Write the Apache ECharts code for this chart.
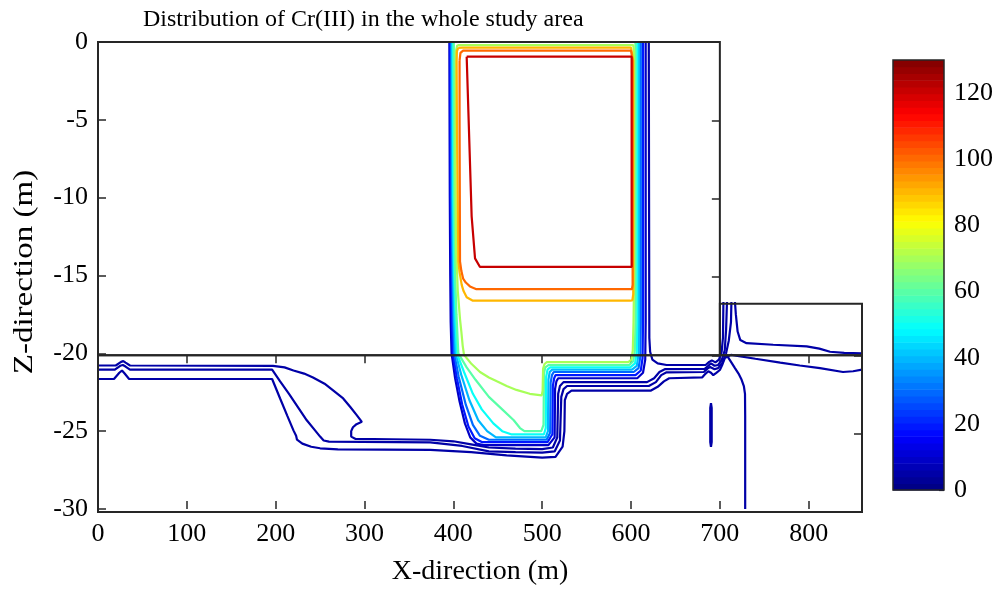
<!DOCTYPE html>
<html><head><meta charset="utf-8">
<script src="https://cdn.jsdelivr.net/npm/echarts@6/dist/echarts.min.js"></script>
<style>html,body{margin:0;padding:0;background:#fff}#c{width:1002px;height:591px}</style>
</head><body><div id="c"></div>
<script>
// ---------- data ----------
var titleText = 'Distribution of Cr(III) in the whole study area';
var xName = 'X-direction (m)', zName = 'Z-direction (m)';
var xTicks = [0,100,200,300,400,500,600,700,800];
var zTicks = [0,-5,-10,-15,-20,-25,-30];
var cbarTicks = [0,20,40,60,80,100,120];
var cbarMin = 0, cbarMax = 130, cbarSteps = 64;
var xMin = 0, xMax = 860, zMin = -30, zMax = 0;
var upperBoxX = 700, upperBoxZ = -20, rightBoxTop = -16.7;

// contour lines: [x, z]
var c10 = [[395.5,0],[396,-10],[396.5,-15],[397,-18],[398,-20],[402,-21.6],[407,-23.1],[413,-24.5],[419,-25.4],[426,-25.8],[434,-25.9],[507,-25.9],[514,-25.4],[514.5,-22.3],[516,-21.8],[518,-21.6],[607,-21.6],[613.5,-21.25],[616,-20.4],[616.5,-18],[616.5,0]];
var c20 = [[396.5,0],[397,-10],[398,-15],[398.5,-18],[399.5,-20],[404,-21.6],[410,-23.3],[417,-24.7],[424,-25.45],[432,-25.7],[506,-25.7],[511.5,-25.2],[512,-22.1],[513.5,-21.6],[515,-21.4],[605,-21.4],[611,-21.1],[613,-20.3],[613.5,-18],[613.5,0]];
var c30 = [[397.5,0],[398,-10],[399,-15],[400,-18],[401,-20],[406,-21.5],[414,-23.3],[422,-24.6],[430,-25.3],[440,-25.55],[505,-25.55],[509,-25.1],[509.5,-21.9],[511,-21.4],[513,-21.2],[603,-21.2],[608.5,-20.95],[610.5,-20.2],[611,-18],[611,0]];
var c40 = [[398.5,0],[399,-10],[400,-15],[401,-18],[402.5,-20],[409,-21.4],[418,-23.0],[428,-24.3],[438,-25.0],[448,-25.4],[504,-25.4],[506.5,-25.0],[507,-21.7],[508.5,-21.2],[511,-21.05],[601,-21.05],[606.5,-20.8],[608.5,-20.0],[609,-18],[609,0]];
var c50 = [[399.5,0],[400,-10],[401,-15],[402.5,-18],[404,-20],[412,-21.2],[422,-22.6],[432,-23.6],[445,-24.5],[455,-25.0],[465,-25.2],[502,-25.2],[504,-24.8],[504.5,-21.5],[506,-21.05],[509,-20.9],[599,-20.9],[604.5,-20.65],[606.5,-19.9],[607,-18],[607,0]];
var c60 = [[400.5,0],[401,-10],[402,-15],[403.5,-17.5],[405.6,-20],[415,-20.9],[425,-21.7],[440,-22.8],[455,-23.6],[468,-24.3],[475,-24.8],[480,-25.0],[499,-25.0],[501.5,-24.6],[502,-21.3],[503.5,-20.9],[507,-20.75],[598,-20.75],[602.5,-20.5],[604.3,-19.8],[605,-18],[605,0]];
var c70 = [[404.5,-0.2],[402.8,-0.6],[402.3,-8],[403,-13],[405,-16],[407.5,-17.8],[409,-18.6],[410.5,-19.5],[412,-20.1],[420,-20.65],[430,-21.2],[440,-21.55],[449,-21.8],[460,-22.1],[471,-22.35],[486,-22.6],[499.5,-22.7],[500.5,-22.4],[501,-21.0],[502.5,-20.7],[505,-20.57],[597,-20.57],[600.5,-20.4],[602,-19.8],[602.8,-18],[603.5,-15],[603.5,-0.6],[602.5,-0.2],[404.5,-0.2]];
var c90 = [[405.5,-0.38],[410,-0.36],[600,-0.36],[602,-0.45],[602.5,-1.2],[602.5,-16.2],[601.5,-16.6],[599,-16.62],[422,-16.62],[415,-16.4],[411.5,-16.0],[409.4,-15.6],[407,-14.8],[405.6,-14.1],[404,-5],[403.7,-1.2],[404,-0.6],[405.5,-0.38]];
var c100 = [[407,-1.2],[408,-0.7],[411,-0.55],[600,-0.55],[601.5,-0.65],[601.8,-1.2],[601.8,-15.6],[601,-15.88],[426,-15.88],[418.7,-15.7],[414,-15.45],[411,-15.2],[409,-14.7],[407.5,-14.1],[407,-5],[407,-1.2]];
var c120 = [[415,-0.94],[600.7,-0.94],[600.7,-14.45],[430,-14.45],[424.4,-13.9],[420.6,-11.2],[415,-0.94]];
var lineA = [[0,-20.78],[20,-20.78],[26,-20.55],[28.5,-20.5],[31,-20.6],[36,-20.78],[197,-20.8],[210,-20.9],[220,-21.1],[232,-21.3],[242,-21.55],[255,-21.95],[265,-22.4],[276,-22.9],[284,-23.45],[291,-23.95],[297,-24.4],[291,-24.55],[287,-24.75],[285,-25.0],[285,-25.35],[290,-25.5],[330,-25.52],[374,-25.55],[400,-25.65],[420,-25.85],[440,-26.05],[470,-26.12],[500,-26.15],[512,-26.05],[517,-25.4],[518,-22.6],[520,-22.1],[524,-21.85],[618,-21.85],[626,-21.6],[632,-21.2],[638,-21.02],[683,-21.0],[687,-20.8],[690,-20.65],[694,-20.8],[698,-20.75],[702,-20.45],[705.5,-19.8],[707,-18.5],[708,-16.7]];
var lineB = [[0,-21.05],[19,-21.05],[25,-20.8],[28,-20.75],[31,-20.85],[36,-21.05],[196,-21.05],[205,-21.8],[215,-22.6],[225,-23.45],[235,-24.3],[245,-25.0],[250,-25.35],[254,-25.6],[260,-25.67],[374,-25.72],[410,-25.95],[440,-26.3],[470,-26.35],[500,-26.38],[514,-26.3],[520,-25.6],[521.5,-22.8],[524,-22.3],[528,-22.1],[620,-22.1],[628,-21.85],[634,-21.4],[640,-21.22],[682,-21.2],[686,-20.98],[689,-20.88],[694,-21.02],[698,-20.95],[703,-20.6],[707,-20.0],[710,-19.2],[712.5,-18],[713,-16.7]];
var lineC = [[0,-21.65],[18,-21.65],[24,-21.25],[27,-21.1],[30,-21.3],[35,-21.65],[196,-21.65],[205,-22.9],[213,-24.0],[220,-24.95],[223,-25.3],[224,-25.55],[230,-25.8],[240,-26.0],[250,-26.1],[270,-26.17],[374,-26.2],[420,-26.35],[460,-26.55],[500,-26.7],[515,-26.65],[523,-26.0],[525,-25],[525.5,-23.0],[528,-22.6],[533,-22.4],[622,-22.4],[630,-22.15],[637,-21.8],[643,-21.6],[680,-21.55],[684,-21.3],[687,-21.15],[690,-21.25],[692.6,-21.4],[696,-21.25],[700,-21.07],[703,-20.7],[705.6,-20.3],[712.5,-20.1],[740,-20.35],[768,-20.6],[790,-20.78],[812.7,-20.95],[838.6,-21.2],[850,-21.15],[860,-21.05]];
var lineR = [[620,0],[620.3,-10],[620.6,-19],[621.5,-19.9],[624,-20.4],[630,-20.65],[640,-20.75],[684,-20.75],[688,-20.55],[691,-20.45],[695,-20.58],[699,-20.4],[702,-19.9],[703.5,-19],[704,-16.7]];
var lineE = [[717,-16.7],[718,-17.5],[720,-18.6],[723,-19.15],[730,-19.35],[760,-19.45],[797.7,-19.55],[812,-19.7],[824,-19.9],[840,-19.97],[860,-20.0]];
var lineF = [[707.5,-20.1],[712,-20.5],[717,-20.95],[721,-21.3],[724.5,-21.7],[727,-22.1],[728.3,-22.6],[728.5,-24],[728.5,-30]];
var dash = [[690,-23.2],[690.8,-23.5],[690.8,-25.7],[690,-26.0],[689.2,-25.7],[689.2,-23.5],[690,-23.2]];

var contours = [
  {level: 5, pts: lineA}, {level: 5, pts: lineB}, {level: 5, pts: lineC},
  {level: 5, pts: lineR}, {level: 5, pts: lineE}, {level: 5, pts: lineF}, {level: 5, pts: dash},
  {level: 10, pts: c10}, {level: 20, pts: c20}, {level: 30, pts: c30}, {level: 40, pts: c40},
  {level: 50, pts: c50}, {level: 60, pts: c60}, {level: 70, pts: c70},
  {level: 90, pts: c90}, {level: 100, pts: c100}, {level: 120, pts: c120}
];

// ---------- helpers ----------
function jet(t){
  function c(v){return Math.max(0, Math.min(1, v));}
  var r = c(1.5 - Math.abs(4*t - 3)), g = c(1.5 - Math.abs(4*t - 2)), b = c(1.5 - Math.abs(4*t - 1));
  return 'rgb(' + Math.round(r*255) + ',' + Math.round(g*255) + ',' + Math.round(b*255) + ')';
}
function cellColor(i){ return jet((i + 0.5) / cbarSteps); }
function levelColor(L){
  var i = Math.floor((L - cbarMin) / (cbarMax - cbarMin) * cbarSteps);
  i = Math.max(0, Math.min(cbarSteps - 1, i));
  return cellColor(i);
}

var PL = 98, PT = 42, PW = 764, PH = 470;
function gx(v){ return PL + (v - xMin) / (xMax - xMin) * PW; }
function gz(v){ return PT + (zMax - v) / (zMax - zMin) * PH; }

var FONT = 'Liberation Serif';
var AX = '#262626';
var tickStyle = {color: AX, width: 1.5};

var cbCells = [];
for (var i = 0; i < cbarSteps; i++) cbCells.push([i]);

var series = contours.map(function(c){
  return {type: 'line', xAxisIndex: 0, yAxisIndex: 0, data: c.pts, showSymbol: false, symbol: 'none',
    lineStyle: {color: levelColor(c.level), width: 2.2}, z: 3, animation: false, silent: true};
});
series.push({
  type: 'custom', xAxisIndex: 4, yAxisIndex: 4, data: cbCells, animation: false, silent: true,
  renderItem: function(params, api){
    var i = api.value(0);
    var lo = cbarMin + i * (cbarMax - cbarMin) / cbarSteps;
    var hi = cbarMin + (i + 1) * (cbarMax - cbarMin) / cbarSteps;
    var p1 = api.coord([0, lo]), p2 = api.coord([1, hi]);
    return {type: 'rect', shape: {x: p1[0], y: p2[1], width: p2[0] - p1[0], height: p1[1] - p2[1] + 0.6},
      style: {fill: cellColor(i)}};
  }
});

var frame = {show: true, borderColor: AX, borderWidth: 2, backgroundColor: 'transparent', z: 10};

var option = {
  animation: false,
  backgroundColor: '#fff',
  title: {text: titleText, left: 138, top: 3,
    textStyle: {fontFamily: FONT, fontSize: 24, fontWeight: 'normal', color: '#000'}},
  graphic: [{
    type: 'text', x: 25, y: 272, rotation: Math.PI / 2, scaleX: 1.18, silent: true,
    style: {text: zName, fontFamily: FONT, fontSize: 28, fill: '#000', align: 'center', verticalAlign: 'middle'}
  }],
  grid: [
    {left: PL, top: PT, width: PW, height: PH, show: false},
    Object.assign({left: gx(0), top: gz(0), width: gx(upperBoxX) - gx(0), height: gz(upperBoxZ) - gz(0)}, frame),
    Object.assign({left: gx(0), top: gz(upperBoxZ), width: gx(xMax) - gx(0), height: gz(zMin) - gz(upperBoxZ)}, frame),
    Object.assign({left: gx(upperBoxX), top: gz(rightBoxTop), width: gx(xMax) - gx(upperBoxX), height: gz(upperBoxZ) - gz(rightBoxTop)}, frame),
    {left: 893, top: 60, width: 51, height: 430, show: true, borderColor: AX, borderWidth: 1.5, backgroundColor: 'transparent', z: 10}
  ],
  xAxis: [
    {gridIndex: 0, type: 'value', min: xMin, max: xMax, position: 'bottom',
      axisLine: {show: false, onZero: false}, splitLine: {show: false},
      axisTick: {show: true, inside: true, length: 8, customValues: xTicks, lineStyle: tickStyle},
      axisLabel: {show: true, customValues: xTicks, fontFamily: FONT, fontSize: 26, color: '#000', margin: 12},
      name: xName, nameLocation: 'middle', nameGap: 49,
      nameTextStyle: {fontFamily: FONT, fontSize: 28, color: '#000'}},
    {gridIndex: 1, type: 'value', min: xMin, max: upperBoxX, show: false, axisLine: {onZero: false}},
    {gridIndex: 2, type: 'value', min: xMin, max: xMax, position: 'top',
      axisLine: {show: false, onZero: false}, splitLine: {show: false}, axisLabel: {show: false},
      axisTick: {show: true, inside: true, length: 8, customValues: xTicks, lineStyle: tickStyle}},
    {gridIndex: 3, type: 'value', min: upperBoxX, max: xMax, show: false, axisLine: {onZero: false}},
    {gridIndex: 4, type: 'value', min: 0, max: 1, show: false, axisLine: {onZero: false}}
  ],
  yAxis: [
    {gridIndex: 0, type: 'value', min: zMin, max: zMax, interval: 5, position: 'left',
      axisLine: {show: false, onZero: false}, splitLine: {show: false},
      axisTick: {show: true, inside: true, length: 8, lineStyle: tickStyle},
      axisLabel: {show: true, fontFamily: FONT, fontSize: 26, color: '#000', margin: 10}},
    {gridIndex: 1, type: 'value', min: upperBoxZ, max: zMax, interval: 5, position: 'right',
      axisLine: {show: false, onZero: false}, splitLine: {show: false}, axisLabel: {show: false},
      axisTick: {show: true, inside: true, length: 8, lineStyle: tickStyle}},
    {gridIndex: 2, type: 'value', min: zMin, max: upperBoxZ, interval: 5, position: 'right',
      axisLine: {show: false, onZero: false}, splitLine: {show: false}, axisLabel: {show: false},
      axisTick: {show: true, inside: true, length: 8, lineStyle: tickStyle}},
    {gridIndex: 3, type: 'value', min: upperBoxZ, max: rightBoxTop, show: false, axisLine: {onZero: false}},
    {gridIndex: 4, type: 'value', min: cbarMin, max: cbarMax, position: 'right',
      axisLine: {show: false, onZero: false}, splitLine: {show: false},
      axisTick: {show: true, inside: true, length: 5, customValues: cbarTicks, lineStyle: {color: AX, width: 1.2}},
      axisLabel: {show: true, customValues: cbarTicks, fontFamily: FONT, fontSize: 26, color: '#000', margin: 10}}
  ],
  series: series
};

var chart = echarts.init(document.getElementById('c'), null, {renderer: 'canvas'});
chart.setOption(option);
</script></body></html>
